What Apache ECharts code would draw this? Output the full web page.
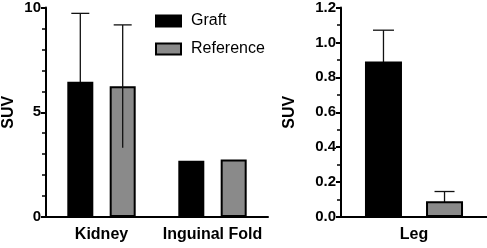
<!DOCTYPE html>
<html>
<head>
<meta charset="utf-8">
<script src="https://cdn.jsdelivr.net/npm/echarts@6/dist/echarts.min.js"></script>
<style>
html,body{margin:0;padding:0;background:#fff;}
#chart{width:487px;height:248px;}
</style>
</head>
<body>
<div id="chart"></div>
<script>
// ---- data ----
const categoriesLeft = ['Kidney', 'Inguinal Fold'];
const graftLeft = [6.45, 2.69];
const referenceLeft = [6.24, 2.74];
const graftLeftErr = [3.27, 0];
const referenceLeftErr = [2.93, 0];

const categoriesRight = ['Leg'];
const graftRight = [0.89];
const referenceRight = [0.09];
const graftRightErr = [0.18];
const referenceRightErr = [0.056];

const leftTicks = { min: 0, max: 10, interval: 5 };
const rightTicks = { min: 0, max: 1.2, interval: 0.2 };

// ---- styling ----
const FONT = 'Liberation Sans';
const GRAY = '#8a8a8a';
const L = { w: 26, gap: 0.63 };
const R = { w: 37, gap: 0.65 };

function errSeries(name, vals, errs, xi, cfg, side, cap, z) {
  const off = side * (cfg.w + cfg.w * cfg.gap) / 2;
  return {
    type: 'custom', name: name + ' err', xAxisIndex: xi, yAxisIndex: xi, z: z,
    silent: true,
    data: vals.map((v, i) => [i, v, errs[i]]).filter(d => d[2] > 0),
    renderItem: function (params, api) {
      const i = api.value(0), v = api.value(1), e = api.value(2);
      const top = api.coord([i, v + e]);
      const bot = api.coord([i, v - e]);
      const x = top[0] + off;
      const st = { stroke: '#111', lineWidth: 1.3 };
      return {
        type: 'group',
        children: [
          { type: 'line', shape: { x1: x, y1: top[1], x2: x, y2: bot[1] }, style: st },
          { type: 'line', shape: { x1: x - cap / 2, y1: top[1], x2: x + cap / 2, y2: top[1] }, style: st }
        ]
      };
    }
  };
}

const axisLine = { show: true, lineStyle: { color: '#000', width: 2 } };
const yLabel = { color: '#000', fontFamily: FONT, fontWeight: 'bold', fontSize: 15, margin: 5 };
const xLabel = { color: '#000', fontFamily: FONT, fontWeight: 'bold', fontSize: 16, margin: 10, interval: 0 };
const nameStyle = { color: '#000', fontFamily: FONT, fontWeight: 'bold', fontSize: 16 };

const barStyle = (c) => ({ color: c, borderColor: '#000', borderWidth: 2 });

const option = {
  animation: false,
  backgroundColor: '#fff',
  legend: {
    orient: 'vertical', left: 155, top: 13, padding: 0,
    itemWidth: 25, itemHeight: 11, itemGap: 12, icon: 'rect',
    data: ['Graft', 'Reference'],
    textStyle: { color: '#000', fontFamily: FONT, fontSize: 16, padding: [0, 0, 0, 5] }
  },
  grid: [
    { left: 46, top: 7, width: 222, height: 210 },
    { left: 341, top: 7, width: 146, height: 210 }
  ],
  xAxis: [
    { type: 'category', gridIndex: 0, data: categoriesLeft, axisLine: axisLine,
      axisTick: { alignWithLabel: true, length: 6, lineStyle: { color: '#000', width: 2 } },
      axisLabel: xLabel },
    { type: 'category', gridIndex: 1, data: categoriesRight, axisLine: axisLine,
      axisTick: { alignWithLabel: true, length: 6, lineStyle: { color: '#000', width: 2 } },
      axisLabel: xLabel }
  ],
  yAxis: [
    { type: 'value', gridIndex: 0, min: leftTicks.min, max: leftTicks.max, interval: leftTicks.interval,
      name: 'SUV', nameLocation: 'middle', nameGap: 29, nameTextStyle: nameStyle,
      axisLine: axisLine, axisTick: { show: true, length: 5, lineStyle: { color: '#000', width: 2 } },
      minorTick: { show: true, splitNumber: 5, length: 4, lineStyle: { color: '#000', width: 1.5 } },
      splitLine: { show: false }, axisLabel: yLabel },
    { type: 'value', gridIndex: 1, min: rightTicks.min, max: rightTicks.max, interval: rightTicks.interval,
      name: 'SUV', nameLocation: 'middle', nameGap: 43, nameTextStyle: nameStyle,
      axisLine: axisLine, axisTick: { show: true, length: 5, lineStyle: { color: '#000', width: 2 } },
      minorTick: { show: true, splitNumber: 2, length: 4, lineStyle: { color: '#000', width: 1.5 } },
      splitLine: { show: false }, axisLabel: Object.assign({}, yLabel, { formatter: v => v.toFixed(1) }) }
  ],
  series: [
    { type: 'bar', name: 'Graft', xAxisIndex: 0, yAxisIndex: 0, data: graftLeft, z: 5,
      barWidth: L.w, barGap: (L.gap * 100) + '%', itemStyle: barStyle('#000') },
    { type: 'bar', name: 'Reference', xAxisIndex: 0, yAxisIndex: 0, data: referenceLeft, z: 5,
      barWidth: L.w, barGap: (L.gap * 100) + '%', itemStyle: barStyle(GRAY) },
    { type: 'bar', name: 'Graft', xAxisIndex: 1, yAxisIndex: 1, data: graftRight, z: 5,
      barWidth: R.w, barGap: (R.gap * 100) + '%', itemStyle: barStyle('#000') },
    { type: 'bar', name: 'Reference', xAxisIndex: 1, yAxisIndex: 1, data: referenceRight, z: 5,
      barWidth: R.w, barGap: (R.gap * 100) + '%', itemStyle: barStyle(GRAY) },
    errSeries('Graft', graftLeft, graftLeftErr, 0, L, -1, 18, 1),
    errSeries('Reference', referenceLeft, referenceLeftErr, 0, L, 1, 18, 10),
    errSeries('Graft', graftRight, graftRightErr, 1, R, -1, 21, 1),
    errSeries('Reference', referenceRight, referenceRightErr, 1, R, 1, 20, 1)
  ]
};

const chart = echarts.init(document.getElementById('chart'), null, { renderer: 'canvas' });
chart.setOption(option);
</script>
</body>
</html>
